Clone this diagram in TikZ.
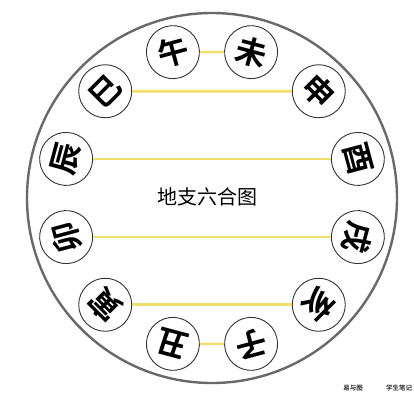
\documentclass[tikz,border=0pt]{standalone}
\usepackage{fontspec}
\newfontfamily\cjk{Noto Sans CJK SC}
\newfontfamily\cjkbold{Noto Sans CJK SC Bold}
\definecolor{ringgray}{RGB}{105,105,105}
\definecolor{hegold}{RGB}{240,222,110}
\begin{document}
\begin{tikzpicture}[x=1pt,y=1pt,
    branch/.style={circle,draw=black!80,line width=0.9pt,fill=white,
      minimum size=53pt,inner sep=0pt,font=\cjkbold\fontsize{31}{31}\selectfont},
    heline/.style={hegold,line width=2.6pt}]
    \useasboundingbox (-212,-202) rectangle (202,198);
    \draw[ringgray,line width=2.4pt] (0,0) circle (185);
    % twelve branches, tops facing outwards
    \foreach \ch/\nm/\ang in {午/wu/105,未/wei/75,申/shen/45,酉/you/15,
        戌/xu/-15,亥/hai/-45,子/zi/-75,丑/chou/-105,寅/yin/-135,
        卯/mao/-165,辰/chen/165,巳/si/135}
      \node[branch,rotate=\ang-90] (\nm) at (\ang:151) {\ch};
    % six harmonies
    \draw[heline] (wu) -- (wei);
    \draw[heline] (si) -- (shen);
    \draw[heline] (chen) -- (you);
    \draw[heline] (mao) -- (xu);
    \draw[heline] (yin) -- (hai);
    \draw[heline] (chou) -- (zi);
    \node[font=\cjk\fontsize{20}{20}\selectfont] (title) at (-5,1) {地支六合图};
    \node[font=\cjkbold\fontsize{6.5}{6.5}\selectfont,black!80] (mark1) at (141,-190) {易与图};
    \node[font=\cjkbold\fontsize{6.5}{6.5}\selectfont,black!80] (mark2) at (187,-190) {学生笔记};
\end{tikzpicture}
\end{document}
